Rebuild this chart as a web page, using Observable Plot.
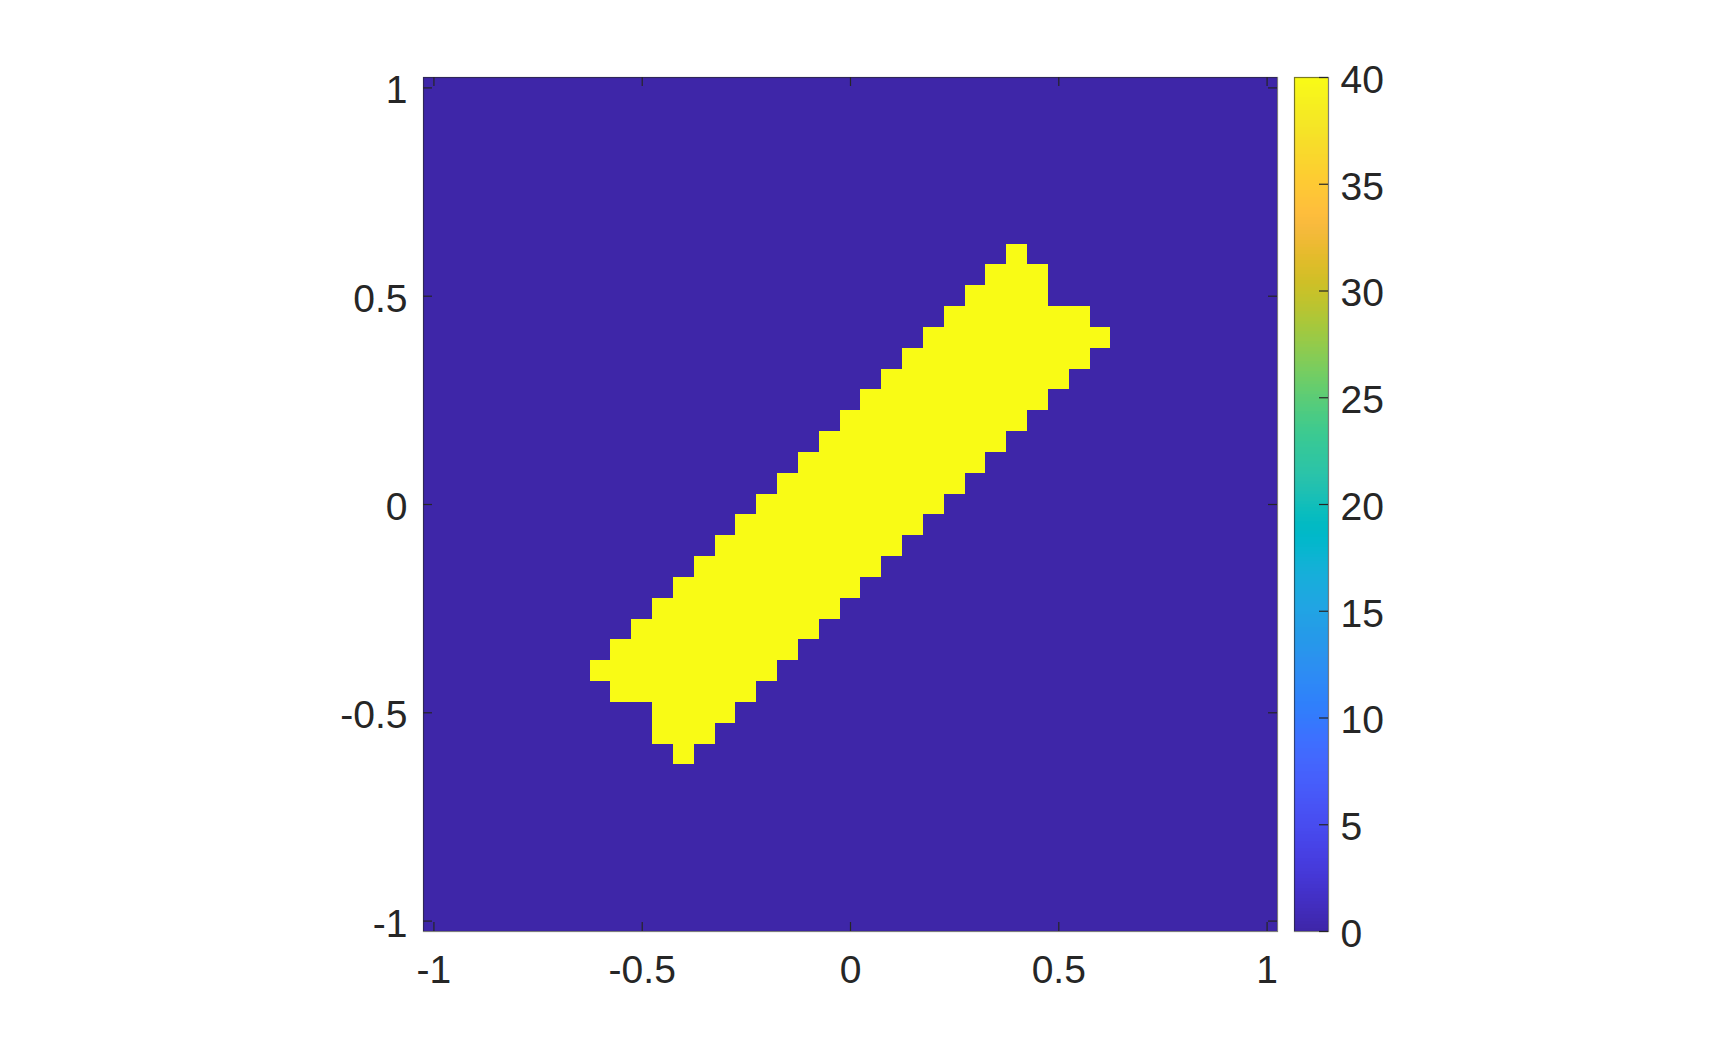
<!DOCTYPE html>
<html>
<head>
<meta charset="utf-8">
<script src="https://cdn.jsdelivr.net/npm/d3@7"></script>
<script src="https://cdn.jsdelivr.net/npm/@observablehq/plot@0.6"></script>
<style>
  html, body { margin: 0; padding: 0; background: #ffffff; }
  #chart { position: relative; width: 1736px; height: 1046px; overflow: hidden; background: #ffffff; }
  #chart svg { position: absolute; left: 0; top: 0; max-width: none !important; }
</style>
</head>
<body>
<div id="chart"></div>
<script>
// ---------------- DATA ----------------
// Grid: 41 x 41 cells, centres at k * 0.05 for k = -20..20 (imagesc over [-1, 1])
const gridIndex = d3.range(-20, 21);
const gridStep = 0.05;

// Yellow cells: for each row (y centre) the first and last x centre that is "on"
const rowY  = [0.6, 0.55, 0.5, 0.45, 0.4, 0.35, 0.3, 0.25, 0.2, 0.15, 0.1, 0.05, 0,
               -0.05, -0.1, -0.15, -0.2, -0.25, -0.3, -0.35, -0.4, -0.45, -0.5, -0.55, -0.6];
const xFrom = [0.4, 0.35, 0.3, 0.25, 0.2, 0.15, 0.1, 0.05, 0, -0.05, -0.1, -0.15, -0.2,
               -0.25, -0.3, -0.35, -0.4, -0.45, -0.5, -0.55, -0.6, -0.55, -0.45, -0.45, -0.4];
const xTo   = [0.4, 0.45, 0.45, 0.55, 0.6, 0.55, 0.5, 0.45, 0.4, 0.35, 0.3, 0.25, 0.2,
               0.15, 0.1, 0.05, 0, -0.05, -0.1, -0.15, -0.2, -0.25, -0.3, -0.35, -0.4];
const valueOn = 40;
const valueOff = 0;

const xTicks = [-1, -0.5, 0, 0.5, 1];
const yTicks = [-1, -0.5, 0, 0.5, 1];
const cbTicks = [0, 5, 10, 15, 20, 25, 30, 35, 40];
const cbDomain = [0, 40];

// MATLAB parula(64)
const parula64 = [
[0.2422,0.1504,0.6603],[0.2504,0.1650,0.7076],[0.2578,0.1818,0.7511],[0.2647,0.1978,0.7952],
[0.2706,0.2147,0.8364],[0.2751,0.2342,0.8710],[0.2783,0.2559,0.8991],[0.2803,0.2782,0.9221],
[0.2813,0.3006,0.9414],[0.2810,0.3228,0.9579],[0.2795,0.3447,0.9717],[0.2760,0.3667,0.9829],
[0.2699,0.3892,0.9906],[0.2602,0.4123,0.9952],[0.2440,0.4358,0.9988],[0.2206,0.4603,0.9973],
[0.1963,0.4847,0.9892],[0.1834,0.5074,0.9798],[0.1786,0.5289,0.9682],[0.1764,0.5499,0.9520],
[0.1687,0.5703,0.9359],[0.1540,0.5902,0.9218],[0.1460,0.6091,0.9079],[0.1380,0.6276,0.8973],
[0.1248,0.6459,0.8883],[0.1113,0.6635,0.8763],[0.0952,0.6798,0.8598],[0.0689,0.6948,0.8394],
[0.0297,0.7082,0.8163],[0.0036,0.7203,0.7917],[0.0067,0.7312,0.7660],[0.0433,0.7411,0.7394],
[0.0964,0.7500,0.7120],[0.1408,0.7584,0.6842],[0.1717,0.7670,0.6554],[0.1938,0.7758,0.6251],
[0.2161,0.7843,0.5923],[0.2470,0.7918,0.5567],[0.2906,0.7973,0.5188],[0.3406,0.8008,0.4789],
[0.3909,0.8029,0.4354],[0.4456,0.8024,0.3909],[0.5044,0.7993,0.3480],[0.5616,0.7942,0.3045],
[0.6174,0.7876,0.2612],[0.6720,0.7793,0.2227],[0.7242,0.7698,0.1910],[0.7738,0.7598,0.1646],
[0.8203,0.7498,0.1535],[0.8634,0.7406,0.1596],[0.9035,0.7330,0.1774],[0.9393,0.7288,0.2100],
[0.9728,0.7298,0.2394],[0.9956,0.7434,0.2371],[0.9970,0.7659,0.2199],[0.9952,0.7893,0.2028],
[0.9892,0.8136,0.1885],[0.9786,0.8386,0.1766],[0.9676,0.8639,0.1643],[0.9610,0.8890,0.1537],
[0.9597,0.9135,0.1423],[0.9628,0.9373,0.1265],[0.9691,0.9606,0.1064],[0.9769,0.9839,0.0805]
];

// ---------------- BUILD ----------------
const parula = d3.piecewise(d3.interpolateRgb,
  parula64.map(c => d3.rgb(c[0] * 255, c[1] * 255, c[2] * 255).formatHex()));

const rowMap = new Map(rowY.map((y, k) => [Math.round(y / gridStep),
  [Math.round(xFrom[k] / gridStep), Math.round(xTo[k] / gridStep)]]));
const cells = [];
for (const j of gridIndex) {
  for (const i of gridIndex) {
    const r = rowMap.get(j);
    const v = (r && i >= r[0] && i <= r[1]) ? valueOn : valueOff;
    cells.push({x: i * gridStep, y: j * gridStep, v});
  }
}
const half = gridStep / 2;
const lim = 1 + half;

const W = 1736, H = 1046;
const frameL = 423, frameR = 1277, frameT = 77, frameB = 931;
const tickLen = 9;
const ink = "#262626";
const font = '"Liberation Sans", Arial, Helvetica, sans-serif';
const fmt = d => String(d);

const main = Plot.plot({
  width: W, height: H,
  marginLeft: frameL, marginRight: W - frameR, marginTop: frameT, marginBottom: H - frameB,
  style: {fontFamily: font, fontSize: "39px", color: ink, background: "transparent", overflow: "visible"},
  x: {domain: [-lim, lim], label: null},
  y: {domain: [-lim, lim], label: null},
  color: {type: "linear", domain: cbDomain, interpolate: parula},
  marks: [
    Plot.rect(cells, {x1: d => d.x - half, x2: d => d.x + half, y1: d => d.y - half, y2: d => d.y + half,
      fill: "v", shapeRendering: "crispEdges"}),
    Plot.ruleX(xTicks, {x: d => d, insetTop: (frameB - frameT) - tickLen, stroke: ink, strokeWidth: 1.2}),
    Plot.ruleX(xTicks, {x: d => d, insetBottom: (frameB - frameT) - tickLen, stroke: ink, strokeWidth: 1.2}),
    Plot.ruleY(yTicks, {y: d => d, insetRight: (frameR - frameL) - tickLen, stroke: ink, strokeWidth: 1.2}),
    Plot.ruleY(yTicks, {y: d => d, insetLeft: (frameR - frameL) - tickLen, stroke: ink, strokeWidth: 1.2}),
    Plot.frame({stroke: ink, strokeOpacity: 0.6, strokeWidth: 1.2}),
    Plot.axisX(xTicks, {tickSize: 0, tickPadding: 24, tickFormat: fmt, label: null, fill: ink, fontSize: 39}),
    Plot.axisY(yTicks, {tickSize: 0, tickPadding: 16, tickFormat: fmt, label: null, fill: ink, fontSize: 39, dy: 3})
  ]
});

const cbL = 1294, cbR = 1328;
const cbN = 256;
const cbStep = (cbDomain[1] - cbDomain[0]) / cbN;
const cbData = d3.range(cbN).map(k => cbDomain[0] + k * cbStep);

const cbar = Plot.plot({
  width: W, height: H,
  marginLeft: cbL, marginRight: W - cbR, marginTop: frameT, marginBottom: H - frameB,
  style: {fontFamily: font, fontSize: "39px", color: ink, background: "transparent", overflow: "visible"},
  x: {domain: [0, 1], axis: null},
  y: {domain: cbDomain, label: null},
  color: {type: "linear", domain: cbDomain, interpolate: parula},
  marks: [
    Plot.rect(cbData, {x1: () => 0, x2: () => 1, y1: d => d, y2: d => d + cbStep,
      fill: d => d + cbStep / 2, shapeRendering: "crispEdges"}),
    Plot.ruleY(cbTicks, {y: d => d, insetLeft: (cbR - cbL) - tickLen, stroke: ink, strokeWidth: 1.2}),
    Plot.frame({stroke: ink, strokeOpacity: 0.6, strokeWidth: 1.2}),
    Plot.axisY(cbTicks, {anchor: "right", tickSize: 0, tickPadding: 12, tickFormat: fmt, label: null,
      fill: ink, fontSize: 39, dy: 3})
  ]
});

const chart = document.getElementById("chart");
chart.appendChild(main);
chart.appendChild(cbar);
</script>
</body>
</html>
